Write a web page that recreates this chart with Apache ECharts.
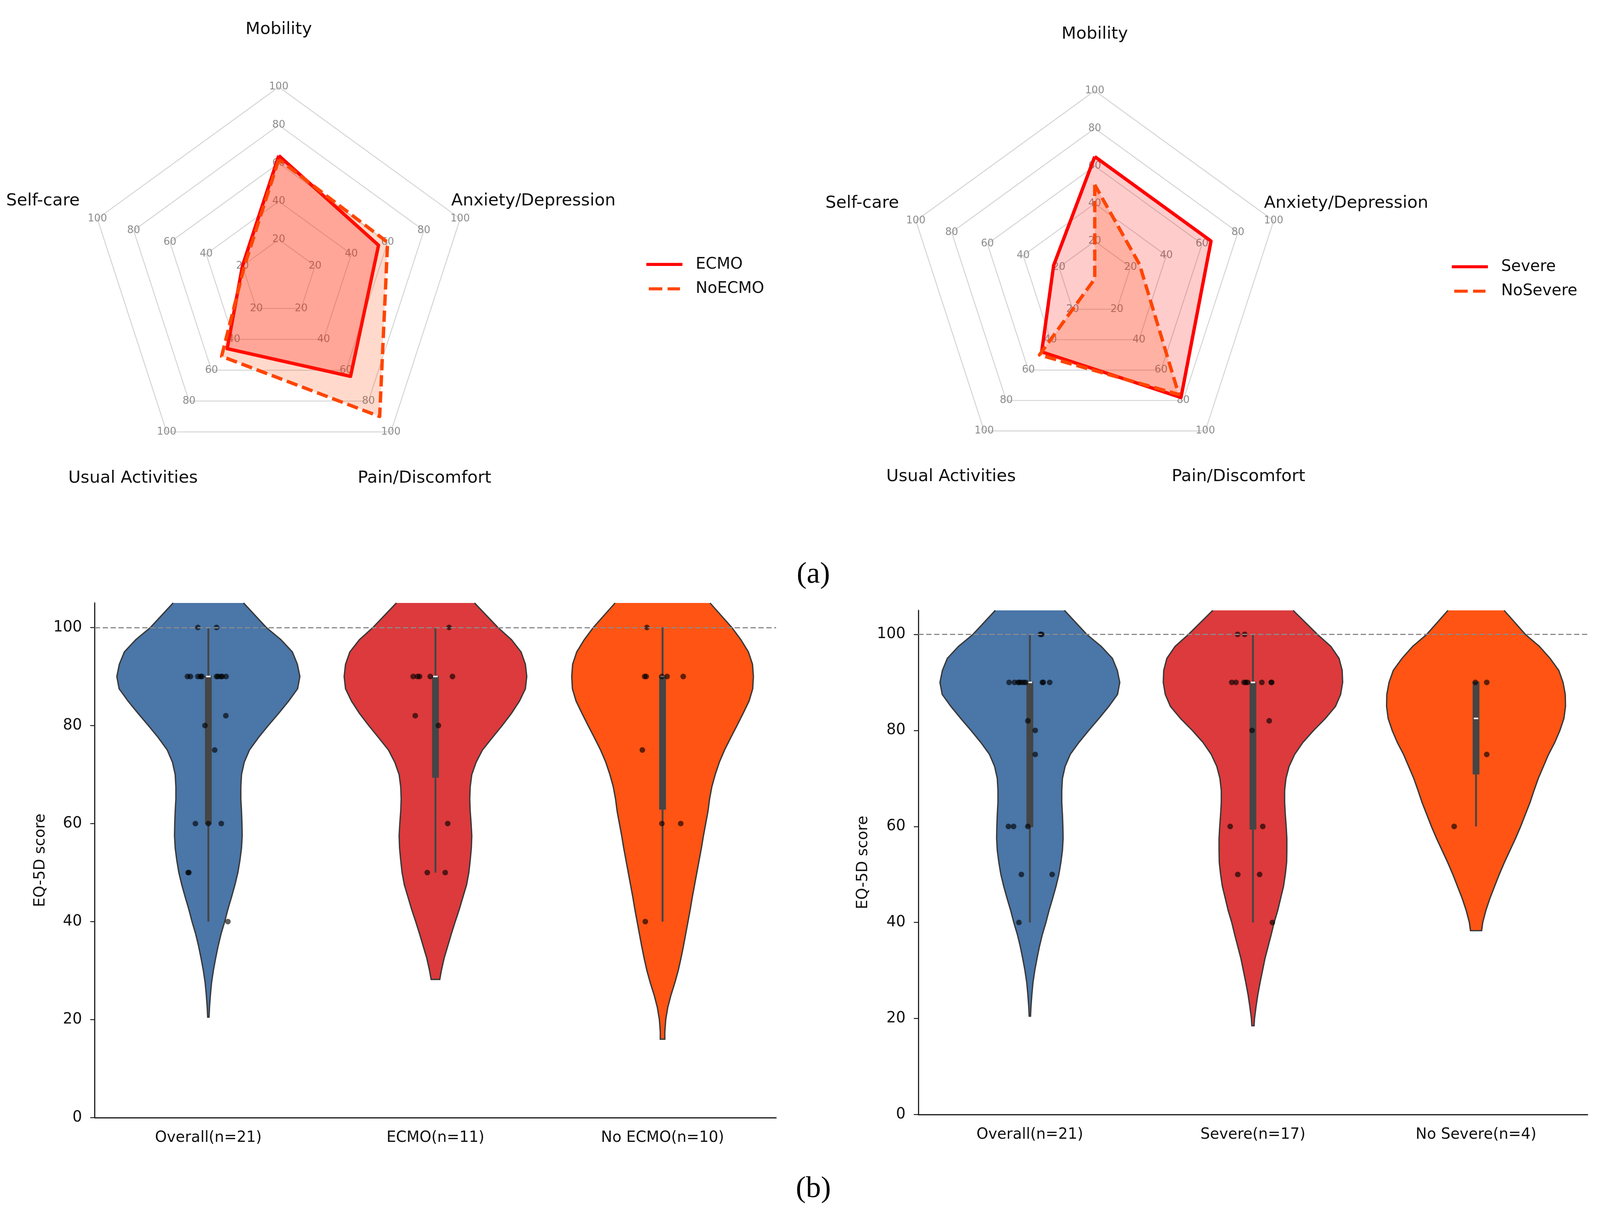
<!DOCTYPE html>
<html>
<head>
<meta charset="utf-8">
<title>EQ-5D radar and violin plots</title>
<script src="https://cdn.jsdelivr.net/npm/echarts@6/dist/echarts.min.js"></script>
<style>
  html, body { margin: 0; padding: 0; background: #fff; overflow: hidden; }
  #chart { width: 100vw; height: 100vh; }
</style>
</head>
<body>
<div id="chart"></div>
<script>
// radar dimensions, counter-clockwise from the top
const dims = ['Mobility', 'Self-care', 'Usual Activities', 'Pain/Discomfort', 'Anxiety/Depression'];
const ecmo = [64, 20, 46, 64, 55];
const noEcmo = [62, 19, 51, 90, 60];
const severe = [65, 23, 48, 78, 65];
const noSevere = [50, 0, 50, 76, 25];

// violin panels
const leftGroups = ['Overall(n=21)', 'ECMO(n=11)', 'No ECMO(n=10)'];
const rightGroups = ['Overall(n=21)', 'Severe(n=17)', 'No Severe(n=4)'];
const yTicks = [0, 20, 40, 60, 80, 100];

// violin outlines: [score, half width in category units]
const overallProfile = [[105, 0.155], [100, 0.255], [97.5, 0.32], [95, 0.37], [92.5, 0.392], [90, 0.403], [87.5, 0.393], [85, 0.354], [82.5, 0.31], [80, 0.264], [77.5, 0.22], [75, 0.181], [72.5, 0.158], [70, 0.146], [67.5, 0.143], [65, 0.143], [62.5, 0.146], [60, 0.148], [57.5, 0.149], [55, 0.146], [52.5, 0.139], [50, 0.13], [47.5, 0.117], [45, 0.102], [42.5, 0.086], [40, 0.072], [37.5, 0.056], [35, 0.043], [32.5, 0.032], [30, 0.022], [27.5, 0.014], [25, 0.009], [22.5, 0.005], [20.5, 0.003]];
const ecmoProfile = [[105, 0.172], [100, 0.275], [97.5, 0.335], [95, 0.377], [92.5, 0.396], [90, 0.402], [87.5, 0.396], [85, 0.37], [82.5, 0.335], [80, 0.294], [77.5, 0.25], [75, 0.207], [72.5, 0.179], [70, 0.16], [67.5, 0.153], [65, 0.151], [62.5, 0.153], [60, 0.157], [57.5, 0.16], [55, 0.158], [52.5, 0.153], [50, 0.147], [47.5, 0.137], [45, 0.121], [42.5, 0.105], [40, 0.087], [37.5, 0.07], [35, 0.054], [32.5, 0.038], [30, 0.026], [28.2, 0.019]];
const noEcmoProfile = [[105, 0.209], [100, 0.305], [97.5, 0.345], [95, 0.378], [92.5, 0.396], [90, 0.4], [87.5, 0.397], [85, 0.381], [82.5, 0.355], [80, 0.328], [77.5, 0.3], [75, 0.273], [72.5, 0.25], [70, 0.232], [67.5, 0.217], [65, 0.207], [62.5, 0.2], [60, 0.19], [57.5, 0.18], [55, 0.171], [52.5, 0.161], [50, 0.151], [47.5, 0.141], [45, 0.131], [42.5, 0.122], [40, 0.112], [37.5, 0.102], [35, 0.092], [32.5, 0.081], [30, 0.069], [27.5, 0.054], [25, 0.037], [22.5, 0.023], [20, 0.014], [17.5, 0.01], [16, 0.01]];
const severeProfile = [[105, 0.18], [100, 0.289], [97.5, 0.349], [95, 0.386], [92.5, 0.4], [90, 0.402], [87.5, 0.393], [85, 0.37], [82.5, 0.325], [80, 0.272], [77.5, 0.224], [75, 0.187], [72.5, 0.162], [70, 0.148], [67.5, 0.142], [65, 0.142], [62.5, 0.145], [60, 0.149], [57.5, 0.152], [55, 0.152], [52.5, 0.151], [50, 0.145], [47.5, 0.137], [45, 0.124], [42.5, 0.111], [40, 0.095], [37.5, 0.082], [35, 0.068], [32.5, 0.054], [30, 0.043], [27.5, 0.032], [25, 0.022], [22.5, 0.014], [20, 0.007], [18.5, 0.005]];
const noSevereProfile = [[105, 0.126], [100, 0.221], [97.5, 0.284], [95, 0.332], [92.5, 0.371], [90, 0.39], [87.5, 0.4], [85, 0.401], [82.5, 0.394], [80, 0.376], [77.5, 0.353], [75, 0.325], [72.5, 0.302], [70, 0.279], [67.5, 0.26], [65, 0.242], [62.5, 0.221], [60, 0.2], [57.5, 0.177], [55, 0.152], [52.5, 0.127], [50, 0.104], [47.5, 0.083], [45, 0.062], [42.5, 0.044], [40, 0.03], [38.3, 0.025]];

// box stats: [min, q1, median, q3, max]
const leftBoxes = [[40, 60, 90, 90, 100], [50, 69.5, 90, 90, 100], [40, 63, 90, 90, 100]];
const rightBoxes = [[40, 60, 90, 90, 100], [40, 59.5, 90, 90, 100], [60, 71, 82.5, 90, 90]];

// strip points: [jitter offset, score]
const overallPtsL = [[-0.046, 100], [0.036, 100], [-0.092, 90], [-0.079, 90], [-0.046, 90], [-0.034, 90], [-0.028, 90], [0.036, 90], [0.042, 90], [0.055, 90], [0.061, 90], [0.078, 90], [0.077, 82], [-0.015, 80], [0.028, 75], [-0.057, 60], [0, 60], [0.057, 60], [-0.089, 50], [-0.086, 50], [0.086, 40]];
const ecmoPts = [[0.06, 100], [-0.098, 90], [-0.079, 90], [-0.07, 90], [-0.023, 90], [0.075, 90], [-0.089, 82], [0.013, 80], [0.054, 60], [-0.036, 50], [0.043, 50]];
const noEcmoPts = [[-0.069, 100], [-0.079, 90], [-0.072, 90], [-0.003, 90], [0.02, 90], [0.091, 90], [-0.089, 75], [-0.003, 60], [0.08, 60], [-0.076, 40]];
const overallPtsR = [[0.047, 100], [0.053, 100], [-0.093, 90], [-0.069, 90], [-0.053, 90], [-0.047, 90], [-0.038, 90], [-0.027, 90], [-0.018, 90], [0.056, 90], [0.06, 90], [0.089, 90], [-0.009, 82], [0.024, 80], [0.024, 75], [-0.096, 60], [-0.073, 60], [-0.009, 60], [-0.038, 50], [0.1, 50], [-0.049, 40]];
const severePts = [[-0.069, 100], [-0.037, 100], [-0.095, 90], [-0.076, 90], [-0.04, 90], [-0.032, 90], [-0.024, 90], [0.04, 90], [0.082, 90], [0.084, 90], [0.073, 82], [-0.004, 80], [-0.102, 60], [0.044, 60], [-0.068, 50], [0.03, 50], [0.087, 40]];
const noSeverePts = [[-0.003, 90], [0.048, 90], [0.048, 75], [-0.098, 60]];

const violinColors = ['#4a76a8', '#dc3a3c', '#ff5413'];
const FONT = 'DejaVu Sans';

// layout is written for a 4253 x 3101 page and scaled to the real viewport
const W = window.innerWidth, H = window.innerHeight;
const sx = W / 4253, sy = H / 3101, sc = Math.min(sx, sy);
const X = function (v) { return v * sx; };
const Y = function (v) { return v * sy; };
const S = function (v) { return v * sc; };

const radarLayout = [
  { center: [741, 711], radius: 507 },
  { center: [2910, 714], radius: 500 }
];
// the upper right name sits a little further out in the original
const nameShift = { 'Anxiety/Depression': 50 };

function radarCfg(lay) {
  return {
    center: [X(lay.center[0]), Y(lay.center[1])],
    radius: S(lay.radius),
    startAngle: 90,
    splitNumber: 5,
    shape: 'polygon',
    indicator: dims.map(function (d) { return { name: d, min: 0, max: 100 }; }),
    axisName: { show: false },
    axisLine: { show: false },
    axisTick: { show: false },
    splitArea: { show: false },
    splitLine: { lineStyle: { color: '#d4d4d4', width: S(2.5) } },
    axisLabel: {
      show: true, fontSize: S(27), color: '#8c8c8c', fontFamily: FONT,
      margin: 0, align: 'center', verticalAlign: 'middle', showMinLabel: false
    }
  };
}

function radarItem(name, values, color, dashed, alpha) {
  return {
    name: name,
    value: values,
    symbol: 'none',
    itemStyle: { color: color },
    lineStyle: { color: color, width: S(9), type: dashed ? [S(30), S(13)] : 'solid' },
    areaStyle: { color: color, opacity: alpha }
  };
}

// dimension names placed round each radar at 1.3 x radius
const nameTexts = [];
radarLayout.forEach(function (lay) {
  dims.forEach(function (d, i) {
    const ang = (90 + i * 72) * Math.PI / 180;
    nameTexts.push({
      type: 'text',
      x: X(lay.center[0] + (nameShift[d] || 0)) + 1.3 * S(lay.radius) * Math.cos(ang),
      y: Y(lay.center[1]) - 1.3 * S(lay.radius) * Math.sin(ang),
      style: { text: d, fontSize: S(45), fontFamily: FONT, fill: '#111', align: 'center', verticalAlign: 'middle' }
    });
  });
});

function violinRenderer(profiles, colors) {
  return function (params, api) {
    const i = api.value(0);
    const prof = profiles[params.dataIndex];
    const left = prof.map(function (p) { return api.coord([i - p[1], p[0]]); });
    const right = prof.map(function (p) { return api.coord([i + p[1], p[0]]); }).reverse();
    const outline = left.concat(right);
    return {
      type: 'group',
      children: [
        { type: 'polygon', shape: { points: outline }, style: { fill: colors[params.dataIndex], stroke: null } },
        { type: 'polyline', shape: { points: outline }, style: { fill: null, stroke: '#383838', lineWidth: S(3.5) } }
      ]
    };
  };
}

function boxRenderer(params, api) {
  const i = api.value(0);
  const lo = api.coord([i, api.value(1)]);
  const q1 = api.coord([i, api.value(2)]);
  const med = api.coord([i, api.value(3)]);
  const q3 = api.coord([i, api.value(4)]);
  const hi = api.coord([i, api.value(5)]);
  const bw = S(18), mw = S(12), mh = S(4);
  return {
    type: 'group',
    children: [
      { type: 'line', shape: { x1: lo[0], y1: lo[1], x2: hi[0], y2: hi[1] }, style: { stroke: '#454545', lineWidth: S(5) } },
      { type: 'rect', shape: { x: q3[0] - bw / 2, y: q3[1] - mh / 2, width: bw, height: q1[1] - q3[1] + mh }, style: { fill: '#454545' } },
      { type: 'rect', shape: { x: med[0] - mw / 2, y: med[1] - mh / 2, width: mw, height: mh }, style: { fill: '#ffffff' } }
    ]
  };
}

function catAxis(groups, gridIndex) {
  return {
    type: 'category', gridIndex: gridIndex, data: groups,
    axisLine: { onZero: false, lineStyle: { color: '#1a1a1a', width: S(3) } },
    axisTick: { alignWithLabel: true, length: S(12), lineStyle: { color: '#1a1a1a', width: S(2.5) } },
    axisLabel: { fontSize: S(40), color: '#111', fontFamily: FONT, margin: S(34) },
    splitLine: { show: false }
  };
}

function valAxisX(gridIndex) {
  return { type: 'value', gridIndex: gridIndex, min: -0.5, max: 2.5, show: false };
}

function scoreAxis(gridIndex, gap) {
  return {
    type: 'value', gridIndex: gridIndex, min: 0, max: 105,
    name: 'EQ-5D score', nameLocation: 'middle', nameRotate: 90, nameGap: S(gap),
    nameTextStyle: { fontSize: S(40), color: '#111', fontFamily: FONT },
    axisLine: { show: true, onZero: false, lineStyle: { color: '#1a1a1a', width: S(3) } },
    axisTick: { show: true, length: S(12), customValues: yTicks, lineStyle: { color: '#1a1a1a', width: S(2.5) } },
    axisLabel: { fontSize: S(40), color: '#111', fontFamily: FONT, margin: S(34), customValues: yTicks },
    splitLine: { show: false }
  };
}

function panelSeries(xIdx, yIdx, profiles, boxes, pointSets) {
  const rows = boxes.map(function (b, i) { return [i].concat(b); });
  const pts = [];
  pointSets.forEach(function (set, i) {
    set.forEach(function (p) { pts.push([i + p[0], p[1]]); });
  });
  return [
    {
      type: 'custom', xAxisIndex: xIdx, yAxisIndex: yIdx, z: 2, silent: true,
      renderItem: violinRenderer(profiles, violinColors),
      encode: { x: 0, y: [1, 2, 3, 4, 5] },
      data: rows
    },
    {
      type: 'custom', xAxisIndex: xIdx, yAxisIndex: yIdx, z: 3, silent: true,
      renderItem: boxRenderer,
      encode: { x: 0, y: [1, 2, 3, 4, 5] },
      data: rows,
      markLine: {
        silent: true, symbol: 'none', label: { show: false },
        lineStyle: { color: '#8a8a8a', width: S(3), type: [S(14), S(7)] },
        data: [{ yAxis: 100 }]
      }
    },
    {
      type: 'scatter', xAxisIndex: xIdx, yAxisIndex: yIdx, z: 4, silent: true,
      symbolSize: S(15),
      itemStyle: { color: 'rgba(0,0,0,0.78)' },
      data: pts
    }
  ];
}

const chart = echarts.init(document.getElementById('chart'), null, { renderer: 'canvas' });

const solidIcon = 'path://M0,0h96v8h-96z';
const dashIcon = 'path://M0,0h36v8h-36z M50,0h33v8h-33z';

function legendCfg(left, top, names) {
  return {
    orient: 'vertical', left: X(left), top: Y(top), padding: 0,
    itemWidth: S(96), itemHeight: S(8), itemGap: S(15), selectedMode: false,
    itemStyle: { borderWidth: 0 },
    textStyle: { fontSize: S(42), color: '#111', fontFamily: FONT, lineHeight: S(50), padding: [0, 0, 0, S(30)] },
    data: [{ name: names[0], icon: solidIcon }, { name: names[1], icon: dashIcon }]
  };
}

chart.setOption({
  backgroundColor: '#ffffff',
  animation: false,
  textStyle: { fontFamily: FONT },
  radar: radarLayout.map(radarCfg),
  legend: [
    legendCfg(1718, 653, ['ECMO', 'NoECMO']),
    legendCfg(3859, 659, ['Severe', 'NoSevere'])
  ],
  grid: [
    { left: X(252), top: Y(1544), width: X(1811), height: Y(1318) },
    { left: X(2441), top: Y(1563), width: X(1779), height: Y(1291) }
  ],
  xAxis: [catAxis(leftGroups, 0), valAxisX(0), catAxis(rightGroups, 1), valAxisX(1)],
  yAxis: [scoreAxis(0, 124), scoreAxis(1, 126)],
  graphic: nameTexts.concat([
    { type: 'text', x: X(2162), y: Y(1472), style: { text: '(a)', fontSize: S(80), fontFamily: 'Liberation Serif', fill: '#000', align: 'center', verticalAlign: 'middle' } },
    { type: 'text', x: X(2162), y: Y(3045), style: { text: '(b)', fontSize: S(80), fontFamily: 'Liberation Serif', fill: '#000', align: 'center', verticalAlign: 'middle' } }
  ]),
  series: [
    {
      type: 'radar', radarIndex: 0, silent: true,
      data: [radarItem('ECMO', ecmo, '#ff0000', false, 0.25), radarItem('NoECMO', noEcmo, '#ff4500', true, 0.2)]
    },
    {
      type: 'radar', radarIndex: 1, silent: true,
      data: [radarItem('Severe', severe, '#ff0000', false, 0.2), radarItem('NoSevere', noSevere, '#ff4500', true, 0.2)]
    }
  ].concat(
    panelSeries(1, 0, [overallProfile, ecmoProfile, noEcmoProfile], leftBoxes, [overallPtsL, ecmoPts, noEcmoPts]),
    panelSeries(3, 1, [overallProfile, severeProfile, noSevereProfile], rightBoxes, [overallPtsR, severePts, noSeverePts])
  )
});
</script>
</body>
</html>
